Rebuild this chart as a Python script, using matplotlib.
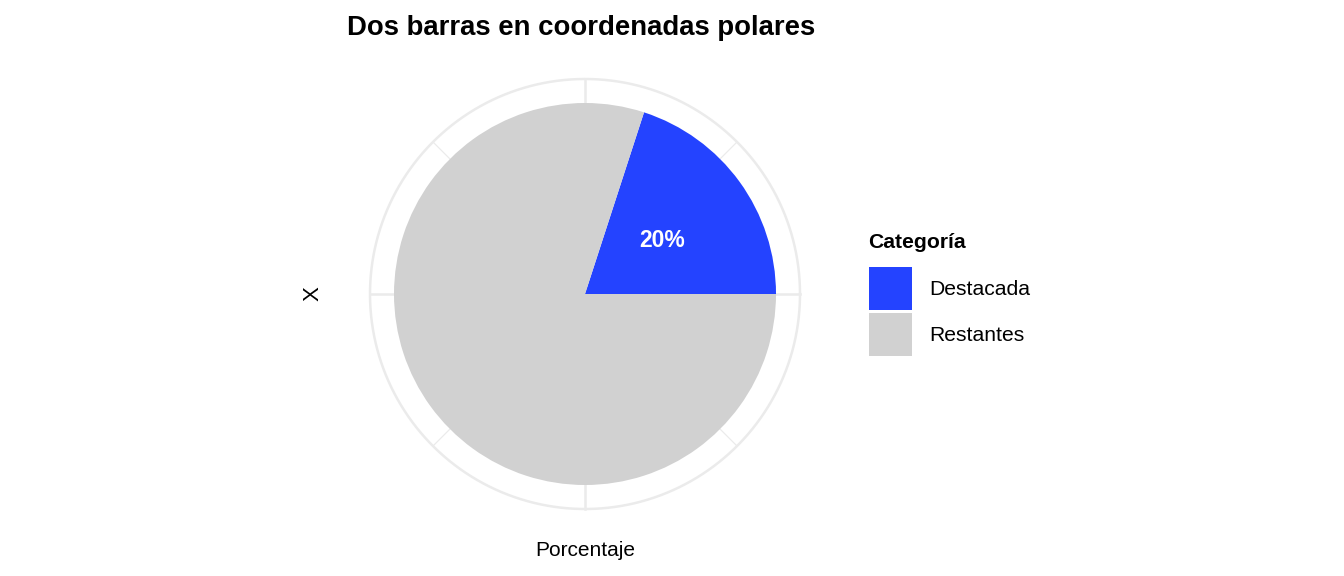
import numpy as np
import matplotlib
matplotlib.use("Agg")
import matplotlib.pyplot as plt
from matplotlib.patches import Patch

plt.rcParams["font.family"] = ["Liberation Sans", "DejaVu Sans"]

# --- data -------------------------------------------------------------------
categorias = ["Destacada", "Restantes"]
porcentajes = [20, 80]
colores = ["#2443FF", "#D1D1D1"]
titulo = "Dos barras en coordenadas polares"
titulo_leyenda = "Categoría"

W, H = 1344, 576
fig = plt.figure(figsize=(W / 100, H / 100), dpi=100)

# square axes centred on the pie (pixel centre 585,294; pie radius 191 px)
cx, cy, half = 585, 294, 250
ax = fig.add_axes([(cx - half) / W, (H - cy - half) / H, 2 * half / W, 2 * half / H])
L = half / 191.0
ax.set_aspect("equal")
ax.axis("off")

# polar grid (theme_minimal style)
r_out = 215 / 191.0
grid = "#EBEBEB"
t = np.linspace(0, 2 * np.pi, 400)
ax.plot(r_out * np.cos(t), r_out * np.sin(t), color=grid, lw=1.8, zorder=0)
for k in range(8):
    a = k * np.pi / 4
    ax.plot([0, r_out * np.cos(a)], [0, r_out * np.sin(a)], color=grid,
            lw=1.8 if k % 2 == 0 else 0.9, zorder=0)

# pie: Destacada starts 18 deg clockwise from the top, runs clockwise
wedges, _, auto = ax.pie(porcentajes, colors=colores, radius=1.0,
                         startangle=72, counterclock=False,
                         autopct="%.0f%%", pctdistance=0.5,
                         textprops=dict(color="white", fontsize=16.5,
                                        fontweight="bold"),
                         wedgeprops=dict(linewidth=0))
auto[0].set_va("center_baseline")
auto[1].set_visible(False)
ax.set_xlim(-L, L)
ax.set_ylim(-L, L)

# text
fig.text(347 / W, 1 - 28 / H, titulo, fontsize=19.8, fontweight="bold",
         ha="left", va="center")
fig.text(313 / W, 1 - 294 / H, "X", fontsize=16, rotation=90,
         ha="center", va="center")
fig.text(585 / W, 1 - 551 / H, "Porcentaje", fontsize=15,
         ha="center", va="center")

# legend (title drawn separately so the key spacing matches ggplot)
handles = [Patch(facecolor=c, edgecolor="none", label=n)
           for c, n in zip(colores, categorias)]
fs = 15.2
px = fs / 0.72
key_pt = 43 * 0.72                      # key size in points
hh = (key_pt / fs - 0.245) / 0.65       # matplotlib's handle height formula
fig.text(868 / W, 1 - 242 / H, titulo_leyenda, fontsize=fs, fontweight="bold",
         ha="left", va="center")
leg = fig.legend(handles=handles, loc="upper left",
                 bbox_to_anchor=(869 / W, 1 - 267 / H), frameon=False,
                 fontsize=fs, handlelength=43 / px, handleheight=hh,
                 handletextpad=17 / px, labelspacing=3 / px, borderpad=0,
                 borderaxespad=0)

fig.savefig("out.png", dpi=100)
